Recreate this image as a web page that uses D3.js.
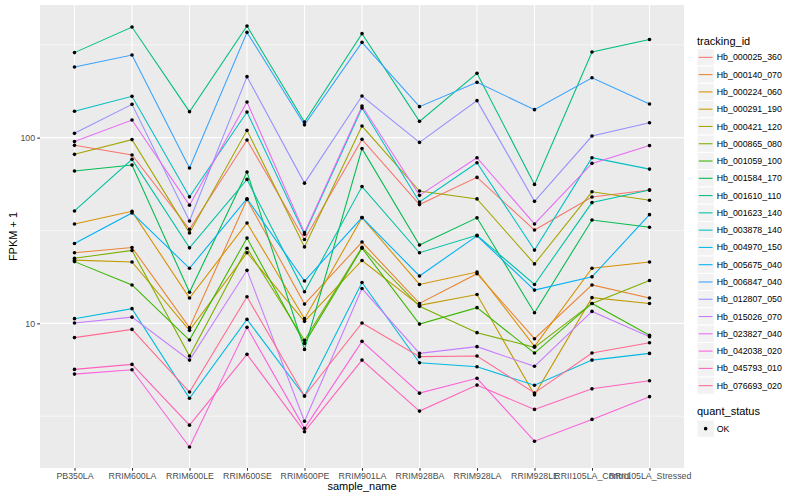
<!DOCTYPE html>
<html>
<head>
<meta charset="utf-8">
<script src="https://cdn.jsdelivr.net/npm/d3@7"></script>
<style>
  body { margin: 0; background: #fff; }
  text { font-family: "Liberation Sans", Arial, Helvetica, sans-serif; }
</style>
</head>
<body>
<div id="chart"></div>
<script>
// samples on the x axis
var samples = ["PB350LA", "RRIM600LA", "RRIM600LE", "RRIM600SE", "RRIM600PE", "RRIM901LA",
    "RRIM928BA", "RRIM928LA", "RRIM928LE", "RRII105LA_Control", "RRII105LA_Stressed"];

var trackingIds = ["Hb_000025_360", "Hb_000140_070", "Hb_000224_060", "Hb_000291_190", "Hb_000421_120",
    "Hb_000865_080", "Hb_001059_100", "Hb_001584_170", "Hb_001610_110", "Hb_001623_140",
    "Hb_003878_140", "Hb_004970_150", "Hb_005675_040", "Hb_006847_040", "Hb_012807_050",
    "Hb_015026_070", "Hb_023827_040", "Hb_042038_020", "Hb_045793_010", "Hb_076693_020"];

// FPKM + 1, one array per gene, same order as samples
var hb000025 = [90.9, 80.6, 32.1, 97.1, 28.3, 97.9, 43.6, 61.1, 31.8, 47.9, 52.2];
var hb000140 = [24.0, 25.6, 9.48, 46.5, 12.7, 27.4, 12.8, 18.5, 8.27, 16.1, 13.7];
var hb000224 = [34.3, 40.1, 13.7, 34.7, 10.6, 37.1, 16.2, 18.9, 7.52, 19.8, 21.4];
var hb000291 = [21.9, 21.4, 9.17, 24.0, 10.25, 21.8, 12.5, 14.3, 4.12, 13.75, 12.8];
var hb000421 = [81.3, 97.6, 30.7, 109.5, 25.8, 115.5, 51.6, 46.8, 20.9, 51.1, 46.0];
var hb000865 = [22.4, 24.7, 6.67, 25.4, 8.10, 25.7, 12.35, 8.91, 7.43, 12.8, 17.0];
var hb001059 = [21.5, 16.1, 8.13, 28.8, 7.80, 25.4, 9.91, 12.15, 6.92, 12.8, 8.62];
var hb001584 = [66.1, 71.2, 14.7, 65.3, 7.24, 87.3, 26.4, 37.0, 11.4, 36.0, 32.9];
var hb001610 = [287, 394, 138, 399, 121.3, 363, 122.4, 222, 56.0, 289, 338];
var hb001623 = [40.3, 76.4, 25.5, 59.6, 14.8, 54.5, 24.0, 29.8, 16.2, 44.7, 52.2];
var hb003878 = [138.6, 166.9, 48.0, 137.4, 30.2, 144.3, 45.0, 73.2, 24.8, 78.0, 67.7];
var hb004970 = [10.6, 12.0, 3.95, 10.5, 4.06, 16.6, 6.14, 5.84, 4.64, 6.34, 6.89];
var hb005675 = [26.9, 39.3, 19.8, 46.9, 16.9, 37.1, 18.0, 29.6, 15.1, 17.8, 38.5];
var hb006847 = [240, 278.5, 68.6, 369, 117.2, 326, 146.9, 198.5, 141.5, 210, 151.7];
var hb012807 = [105.5, 151.1, 35.6, 213, 56.9, 167.5, 94.3, 158.2, 45.4, 102, 120.4];
var hb015026 = [10.04, 10.8, 6.34, 19.3, 2.97, 15.4, 6.89, 7.49, 5.87, 11.6, 8.48];
var hb023827 = [95.2, 124.4, 43.3, 155.5, 30.8, 148, 48.9, 78.0, 34.3, 72.7, 90.6];
var hb042038 = [5.33, 5.63, 2.16, 9.52, 2.72, 8.00, 4.21, 5.06, 2.32, 3.04, 4.03];
var hb045793 = [5.65, 6.01, 2.83, 6.81, 2.61, 6.34, 3.37, 4.65, 3.44, 4.44, 4.91];
var hb076693 = [8.38, 9.28, 4.27, 13.9, 4.06, 10.04, 6.62, 6.67, 4.22, 6.92, 7.87];

var yTicks = [10, 100];
var yMinor = [Math.pow(10, 0.5), Math.pow(10, 1.5), Math.pow(10, 2.5)];

var allValues = [hb000025, hb000140, hb000224, hb000291, hb000421, hb000865, hb001059, hb001584,
    hb001610, hb001623, hb003878, hb004970, hb005675, hb006847, hb012807, hb015026, hb023827,
    hb042038, hb045793, hb076693];

// ggplot hue palette for 20 levels
var colors = ["#F8766D", "#EA8331", "#D89000", "#C09B00", "#A3A500", "#7CAE00", "#39B600", "#00BB4E",
    "#00BF7D", "#00C1A3", "#00BFC4", "#00BAE0", "#00B0F6", "#35A2FF", "#9590FF", "#C77CFF",
    "#E76BF3", "#FA62DB", "#FF62BC", "#FF6C91"];

var series = trackingIds.map(function (id, i) {
    return {
        id: id,
        color: colors[i],
        points: samples.map(function (s, j) { return { sample: s, value: allValues[i][j] }; })
    };
});

var svgWidth = 800;
var svgHeight = 500;
var panel = { left: 40, right: 684, top: 5, bottom: 468 };

var svg = d3.select("#chart")
    .append("svg")
    .attr("width", svgWidth)
    .attr("height", svgHeight);

// scales
var xScale = d3.scalePoint()
    .domain(samples)
    .range([panel.left, panel.right])
    .padding(0.6);

var flat = d3.merge(allValues);
var lo = Math.log10(d3.min(flat));
var hi = Math.log10(d3.max(flat));
var pad = (hi - lo) * 0.05;
var yScale = d3.scaleLog()
    .domain([Math.pow(10, lo - pad), Math.pow(10, hi + pad)])
    .range([panel.bottom, panel.top]);

// panel background + grid
svg.append("rect")
    .attr("x", panel.left)
    .attr("y", panel.top)
    .attr("width", panel.right - panel.left)
    .attr("height", panel.bottom - panel.top)
    .attr("fill", "#EBEBEB");

var grid = svg.append("g");
grid.selectAll(".minor")
    .data(yMinor)
    .enter()
    .append("line")
    .attr("x1", panel.left).attr("x2", panel.right)
    .attr("y1", d => yScale(d)).attr("y2", d => yScale(d))
    .attr("stroke", "#fff").attr("stroke-width", 0.53);

grid.selectAll(".major")
    .data(yTicks)
    .enter()
    .append("line")
    .attr("x1", panel.left).attr("x2", panel.right)
    .attr("y1", d => yScale(d)).attr("y2", d => yScale(d))
    .attr("stroke", "#fff").attr("stroke-width", 1.07);

grid.selectAll(".vmajor")
    .data(samples)
    .enter()
    .append("line")
    .attr("x1", d => xScale(d)).attr("x2", d => xScale(d))
    .attr("y1", panel.top).attr("y2", panel.bottom)
    .attr("stroke", "#fff").attr("stroke-width", 1.07);

// lines
var line = d3.line()
    .x(d => xScale(d.sample))
    .y(d => yScale(d.value));

svg.append("g")
    .selectAll("path")
    .data(series)
    .enter()
    .append("path")
    .attr("d", d => line(d.points))
    .attr("fill", "none")
    .attr("stroke", d => d.color)
    .attr("stroke-width", 1.07);

// points
svg.append("g")
    .selectAll("circle")
    .data(d3.merge(series.map(s => s.points)))
    .enter()
    .append("circle")
    .attr("cx", d => xScale(d.sample))
    .attr("cy", d => yScale(d.value))
    .attr("r", 1.8)
    .attr("fill", "black");

// axes
var bottomAxis = d3.axisBottom(xScale).tickSize(2.75).tickPadding(2.2);
var leftAxis = d3.axisLeft(yScale).tickValues(yTicks).tickFormat(d3.format("d")).tickSize(2.75).tickPadding(2.2);

var xAxisG = svg.append("g")
    .attr("transform", `translate(0, ${panel.bottom})`)
    .call(bottomAxis);
var yAxisG = svg.append("g")
    .attr("transform", `translate(${panel.left}, 0)`)
    .call(leftAxis);

[xAxisG, yAxisG].forEach(function (g) {
    g.select(".domain").remove();
    g.selectAll(".tick line").attr("stroke", "#333333").attr("stroke-width", 1.07);
    g.selectAll(".tick text")
        .attr("fill", "#4D4D4D")
        .attr("font-size", "8.8px")
        .attr("font-family", "Liberation Sans, Arial, sans-serif");
});

// axis titles
svg.append("text")
    .attr("x", (panel.left + panel.right) / 2)
    .attr("y", 490)
    .attr("text-anchor", "middle")
    .attr("font-size", "11px")
    .attr("fill", "black")
    .text("sample_name");

svg.append("text")
    .attr("transform", `translate(16.5, ${(panel.top + panel.bottom) / 2}) rotate(-90)`)
    .attr("text-anchor", "middle")
    .attr("font-size", "11px")
    .attr("fill", "black")
    .text("FPKM + 1");

// legend
var legend = svg.append("g").attr("transform", "translate(697, 0)");
var keyH = 17.28;
var firstKey = 48.7;

legend.append("text")
    .attr("x", 0).attr("y", 44.5)
    .attr("font-size", "11px")
    .text("tracking_id");

var keys = legend.selectAll(".key")
    .data(series)
    .enter()
    .append("g")
    .attr("transform", (d, i) => `translate(0, ${firstKey + i * keyH})`);

keys.append("rect")
    .attr("x", 0).attr("y", 0)
    .attr("width", keyH).attr("height", keyH)
    .attr("fill", "#F2F2F2")
    .attr("stroke", "white")
    .attr("stroke-width", 1);

keys.append("line")
    .attr("x1", keyH * 0.1).attr("x2", keyH * 0.9)
    .attr("y1", keyH / 2).attr("y2", keyH / 2)
    .attr("stroke", d => d.color)
    .attr("stroke-width", 1.07);

keys.append("text")
    .attr("x", keyH + 2.5)
    .attr("y", keyH / 2)
    .attr("dy", "0.35em")
    .attr("font-size", "8.8px")
    .text(d => d.id);

legend.append("text")
    .attr("x", 0).attr("y", 415)
    .attr("font-size", "11px")
    .text("quant_status");

var okKey = legend.append("g").attr("transform", `translate(0, ${420})`);
okKey.append("rect")
    .attr("width", keyH).attr("height", keyH)
    .attr("fill", "#F2F2F2")
    .attr("stroke", "white");
okKey.append("circle")
    .attr("cx", keyH / 2).attr("cy", keyH / 2)
    .attr("r", 1.8)
    .attr("fill", "black");
okKey.append("text")
    .attr("x", keyH + 2.5)
    .attr("y", keyH / 2)
    .attr("dy", "0.35em")
    .attr("font-size", "8.8px")
    .text("OK");
</script>
</body>
</html>
